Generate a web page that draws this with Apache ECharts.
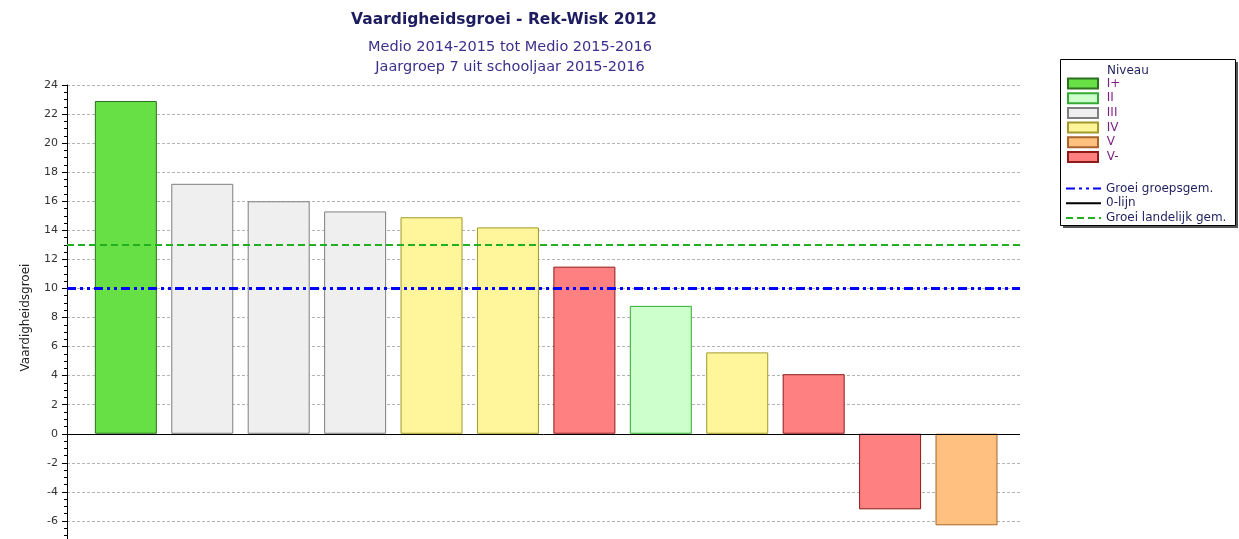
<!DOCTYPE html>
<html>
<head>
<meta charset="utf-8">
<title>Vaardigheidsgroei - Rek-Wisk 2012</title>
<script src="https://cdn.jsdelivr.net/npm/echarts@6/dist/echarts.min.js"></script>
<style>
  html, body { margin: 0; padding: 0; background: #ffffff; overflow: hidden; }
  /* The plot runs on past the bottom edge of the window, so the canvas is a little taller */
  #chart { width: 1239px; height: 556px; }
</style>
</head>
<body>
<div id="chart"></div>
<script>
// Growth per pupil, in the order the bars are drawn
const groei = [22.9, 17.2, 16.0, 15.3, 14.9, 14.2, 11.5, 8.8, 5.6, 4.1, -5.2, -6.3];
const niveauPerLeerling = ['I+', 'III', 'III', 'III', 'IV', 'IV', 'V-', 'II', 'IV', 'V-', 'V-', 'V'];

// Level legend: names, fill and border colours
const niveaus = ['I+', 'II', 'III', 'IV', 'V', 'V-'];
const niveauVulkleur = ['#66e044', '#ccffcc', '#efefef', '#fff59a', '#ffc080', '#ff8080'];
const niveauRandkleur = ['#2f6f22', '#33aa33', '#7f7f7f', '#a39a2a', '#a8642a', '#8e1a1a'];

// Reference lines
const groepsGem = 10;
const landelijkGem = 13;
const nulLijn = 0;

// Value axis range and tick step
const yMin = -8;
const yMax = 24;
const yStap = 2;

const font = 'DejaVu Sans, Verdana, sans-serif';
const chart = echarts.init(document.getElementById('chart'));

const barSeries = niveaus.map((n, k) => ({
  type: 'bar',
  name: n,
  stack: 'groei',
  barWidth: 62,
  z: 2,
  itemStyle: { color: niveauVulkleur[k], borderColor: niveauRandkleur[k], borderWidth: 1 },
  data: groei
    .map((v, i) => (niveauPerLeerling[i] === n ? [i, v] : null))
    .filter(d => d !== null)
}));

function refLine(name, value, color, width, dash, z) {
  const ls = { color: color, width: width, type: dash };
  return {
    type: 'line',
    name: name,
    data: [],
    symbol: 'none',
    z: z,
    itemStyle: { color: color },
    lineStyle: ls,
    markLine: {
      silent: true,
      symbol: ['none', 'none'],
      label: { show: false },
      lineStyle: ls,
      data: [{ yAxis: value }],
      z: z
    }
  };
}

const option = {
  animation: false,
  backgroundColor: '#ffffff',
  textStyle: { fontFamily: font },
  title: [
    {
      text: 'Vaardigheidsgroei - Rek-Wisk 2012',
      left: 499, top: 7, textAlign: 'center',
      textStyle: { fontFamily: font, fontSize: 15.5, fontWeight: 'bold', color: '#1c1c5e' }
    },
    {
      text: 'Medio 2014-2015 tot Medio 2015-2016\nJaargroep 7 uit schooljaar 2015-2016',
      left: 505, top: 32, textAlign: 'center',
      textStyle: { fontFamily: font, fontSize: 14.5, fontWeight: 'normal', color: '#3b2f8c', lineHeight: 20 }
    }
  ],
  grid: { left: 67, right: 219, top: 85, bottom: 6, containLabel: false },
  xAxis: {
    type: 'value',
    min: -0.77, max: 11.7,
    show: false,
    splitLine: { show: false }
  },
  yAxis: {
    type: 'value',
    min: yMin, max: yMax, interval: yStap,
    name: 'Vaardigheidsgroei',
    nameLocation: 'middle',
    nameGap: 35,
    nameTextStyle: { fontFamily: font, fontSize: 12, color: '#222222' },
    axisLine: { show: true, onZero: false, lineStyle: { color: '#000000', width: 1 } },
    axisTick: { show: true, length: 5, lineStyle: { color: '#000000' } },
    minorTick: { show: true, splitNumber: 4, length: 3, lineStyle: { color: '#000000' } },
    axisLabel: { fontFamily: font, fontSize: 11, color: '#333333', margin: 9 },
    splitLine: { show: true, lineStyle: { color: '#b4b4b4', width: 1, type: [3, 2] } }
  },
  legend: [
    {
      data: niveaus,
      orient: 'vertical',
      left: 1062, top: 72.5,
      icon: 'rect',
      itemWidth: 30, itemHeight: 10, itemGap: 2.7,
      selectedMode: false,
      formatter: name => ' ' + name,
      textStyle: { fontFamily: font, fontSize: 12, color: '#7a1f7e' }
    },
    {
      data: ['Groei groepsgem.', '0-lijn', 'Groei landelijk gem.'],
      orient: 'vertical',
      left: 1060, top: 177.5,
      itemWidth: 35, itemHeight: 10, itemGap: 2.7,
      selectedMode: false,
      itemStyle: { opacity: 0 },
      textStyle: { fontFamily: font, fontSize: 12, color: '#1f1f5e' }
    }
  ],
  graphic: [
    {
      type: 'rect',
      z: 0,
      shape: { x: 1063, y: 62, width: 175, height: 166 },
      style: { fill: '#555555' }
    },
    {
      type: 'rect',
      z: 1,
      shape: { x: 1060.5, y: 59.5, width: 175, height: 166 },
      style: { fill: '#ffffff', stroke: '#000000', lineWidth: 1 }
    },
    {
      type: 'text',
      z: 10,
      left: 1107, top: 65,
      style: { text: 'Niveau', fontFamily: font, fontSize: 12, fill: '#1f1f5e' }
    }
  ],
  series: [
    ...barSeries,
    refLine('Groei groepsgem.', groepsGem, '#0000ff', 3, [9, 4, 3, 4, 3, 4], 5),
    refLine('0-lijn', nulLijn, '#000000', 1, 'solid', 4),
    refLine('Groei landelijk gem.', landelijkGem, '#22b022', 2, [7, 4], 5)
  ]
};

chart.setOption(option);
</script>
</body>
</html>
